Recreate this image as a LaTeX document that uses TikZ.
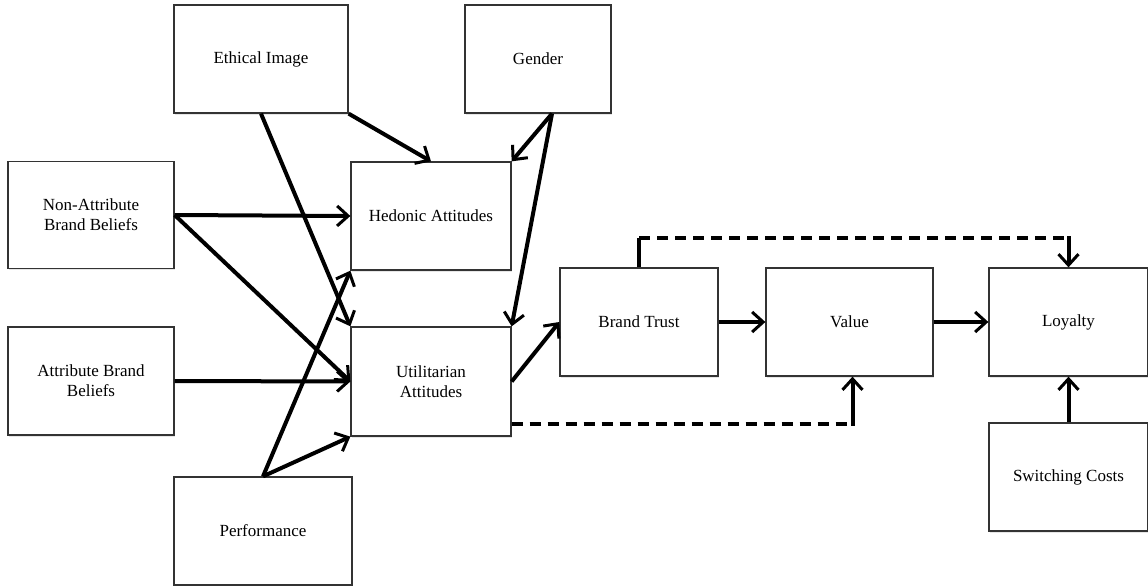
\documentclass[tikz,border=0pt]{standalone}
\usepackage{fontspec}
\setmainfont{Liberation Serif}
\usetikzlibrary{arrows.meta,shadows}
\begin{document}
\begin{tikzpicture}[x=1pt,y=-1pt,
  box/.style={draw=black!80, line width=1.3pt, fill=white, align=center,
    inner sep=2pt, font=\fontsize{17}{20}\selectfont,
    drop shadow={opacity=0.2, shadow xshift=1.2pt, shadow yshift=-1.8pt}},
  link/.style={line width=4pt, -{Straight Barb[length=11pt,width=20pt,line width=3pt]}},
  plain/.style={line width=4pt},
  dashseg/.style={line width=4pt, dash pattern=on 11pt off 7pt}
]
\useasboundingbox (0,0) rectangle (1148,586);

% factor boxes (width x height set per box, positioned by centre)
\node[box, minimum width=174pt, minimum height=108pt] (EI) at (261,59) {Ethical Image};
\node[box, minimum width=146pt, minimum height=108pt] (G)  at (538,59) {Gender};
\node[box, minimum width=166pt, minimum height=107pt] (NA) at (91,215) {Non-Attribute\\Brand Beliefs};
\node[box, minimum width=160pt, minimum height=108pt] (H)  at (431,216) {Hedonic Attitudes};
\node[box, minimum width=166pt, minimum height=108pt] (AB) at (91,381) {Attribute Brand\\Beliefs};
\node[box, minimum width=160pt, minimum height=109pt] (U)  at (431,381.5) {Utilitarian\\Attitudes};
\node[box, minimum width=178pt, minimum height=108pt] (P)  at (263,531) {Performance};
\node[box, minimum width=158pt, minimum height=108pt] (BT) at (639,322) {Brand Trust};
\node[box, minimum width=167pt, minimum height=108pt] (V)  at (849.5,322) {Value};
\node[box, minimum width=159pt, minimum height=108pt] (L)  at (1068.5,322) {Loyalty};
\node[box, minimum width=159pt, minimum height=108pt] (SC) at (1068.5,477) {Switching Costs};

% solid paths
\draw[link] (EI.south east) -- (H.north);
\draw[link] (EI.south) -- (U.north west);
\draw[link] ([xshift=14pt]G.south) -- (H.north east);
\draw[link] ([xshift=14pt]G.south) -- (U.north east);
\draw[link] (NA.east) -- (H.west);
\draw[link] (NA.east) -- (U.west);
\draw[link] (AB.east) -- (U.west);
\draw[link] (P.north) -- (H.south west);
\draw[link] (P.north) -- (U.south west);
\draw[link] (U.east) -- (BT.west);
\draw[link] (BT.east) -- (V.west);
\draw[link] (V.east) -- (L.west);
\draw[link] (SC.north) -- (L.south);

% dashed paths: dashed horizontal runs with solid vertical legs
\coordinate (tl) at (BT.north |- 0,238);
\coordinate (tr) at (L.north |- 0,238);
\coordinate (ua) at ([yshift=-42pt]U.east);
\coordinate (vb) at ([xshift=3pt]V.south);
\coordinate (vc) at (vb |- ua);
\draw[plain] (BT.north) -- (tl);
\draw[dashseg] (tl) -- (tr);
\draw[link] ([yshift=2pt]tr) -- (L.north);
\draw[dashseg] (ua) -- (vc);
\draw[link] ([yshift=-2pt]vc) -- (vb);
\end{tikzpicture}
\end{document}
